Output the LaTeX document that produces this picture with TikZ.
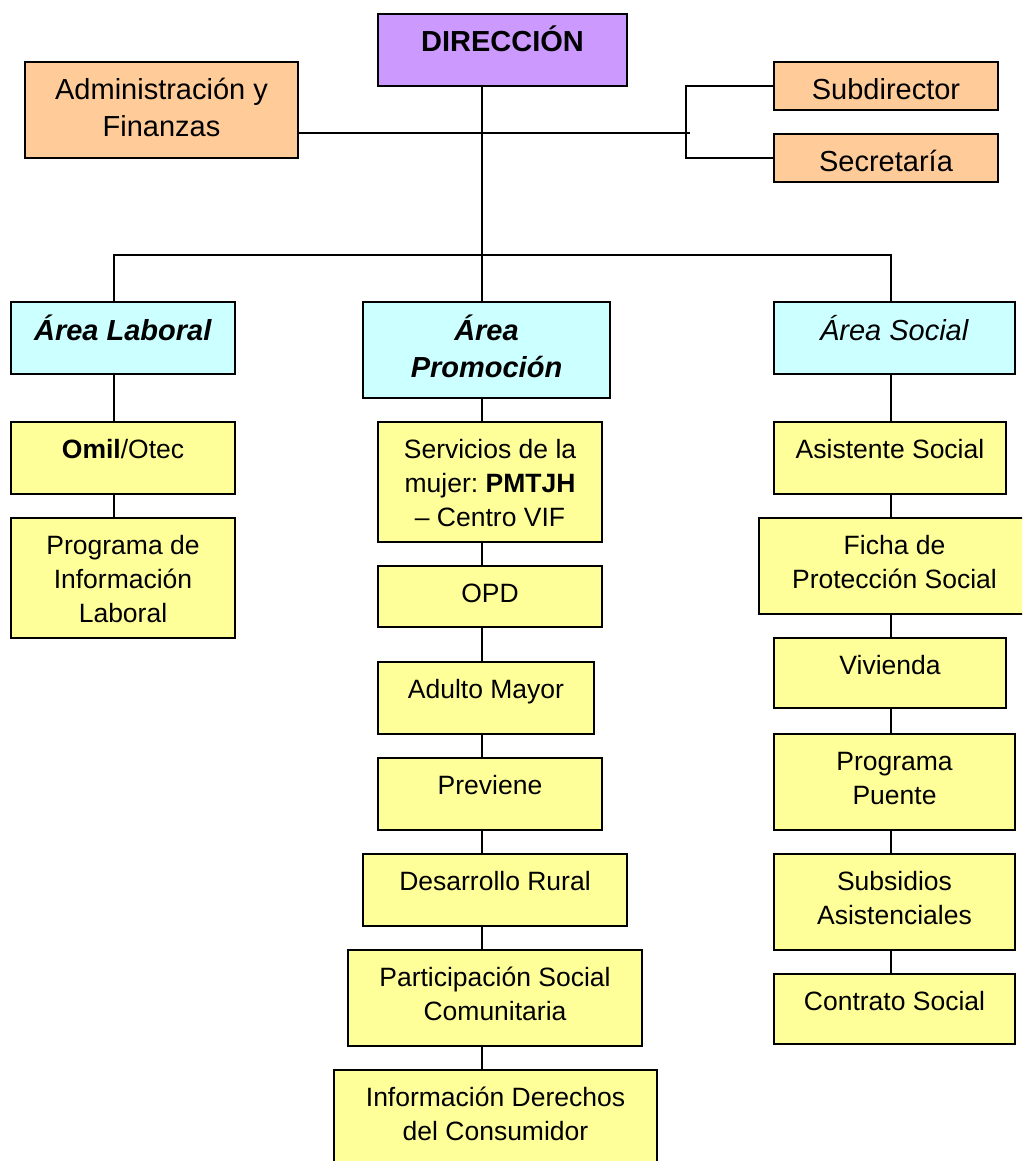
\documentclass[tikz,border=0pt]{standalone}
\usepackage{fontspec}
\setmainfont{Liberation Sans}
\frenchspacing
\definecolor{purp}{HTML}{CC99FF}
\definecolor{orng}{HTML}{FFCC99}
\definecolor{cyn}{HTML}{CCFFFF}
\definecolor{yel}{HTML}{FFFF99}
\tikzset{
  bx/.style={draw=black, line width=1.8pt, inner sep=0pt, rectangle},
  ln/.style={line width=1.7pt},
  bigt/.style={font=\fontsize{29}{37}\selectfont, inner sep=0pt, anchor=base},
  smt/.style={font=\fontsize{26.5}{34}\selectfont, inner sep=0pt, anchor=base},
}
\newcommand\mybox[9]{%
  \node[bx, fill=#6, minimum width={(#4-#2)*1pt}, minimum height={(#5-#3)*1pt}] (#1) at ({(#2+#4)/2},{(#3+#5)/2}) {};
  \node[#7] (#1-t) at ([yshift=-#8pt]#1.north) {\parbox[t]{420pt}{\centering\frenchspacing #9}};
}
\begin{document}
\begin{tikzpicture}[x=1pt,y=-1pt]
\useasboundingbox (0,0) rectangle (1022,1161);
\clip (0,0) rectangle (1022,1161);
% top level
\mybox{dir}{378}{14}{627}{86}{purp}{bigt}{38.5}{\textbf{DIRECCIÓN}}
\mybox{adm}{25}{62}{298}{158}{orng}{bigt}{38.5}{Administración y\\Finanzas}
\mybox{sub}{774}{62}{998}{110}{orng}{bigt}{38.5}{Subdirector}
\mybox{sec}{774}{134}{998}{182}{orng}{bigt}{38.5}{Secretaría}
% areas
\mybox{al}{11}{302}{235}{374}{cyn}{bigt}{39}{\textbf{\textit{Área Laboral}}}
\mybox{ap}{363}{302}{610}{398}{cyn}{bigt}{39}{\textbf{\textit{Área}}\\\textbf{\textit{Promoción}}}
\mybox{as}{774}{302}{1015}{374}{cyn}{bigt}{39}{\textit{Área Social}}
% left column
\mybox{om}{11}{422}{235}{494}{yel}{smt}{37}{\textbf{Omil}/Otec}
\mybox{pil}{11}{518}{235}{638}{yel}{smt}{37.5}{Programa de\\Información\\Laboral}
% middle column
\mybox{sm}{378}{422}{602}{542}{yel}{smt}{37}{Servicios de la\\mujer: \textbf{PMTJH}\\– Centro VIF}
\mybox{opd}{378}{566}{602}{627}{yel}{smt}{37}{OPD}
\mybox{am}{378}{662}{594}{734}{yel}{smt}{37}{Adulto Mayor}
\mybox{pr}{378}{758}{602}{830}{yel}{smt}{37}{Previene}
\mybox{dr}{363}{854}{627}{926}{yel}{smt}{37}{Desarrollo Rural}
\mybox{psc}{348}{950}{642}{1046}{yel}{smt}{37}{Participación Social\\Comunitaria}
\mybox{idc}{334}{1070}{657}{1180}{yel}{smt}{37}{Información Derechos\\del Consumidor}
% right column
\mybox{asi}{774}{422}{1006}{494}{yel}{smt}{37}{Asistente Social}
\mybox{fps}{759}{518}{1030}{614}{yel}{smt}{37}{Ficha de\\Protección Social}
\mybox{viv}{774}{638}{1006}{708}{yel}{smt}{37}{Vivienda}
\mybox{pp}{774}{734}{1015}{830}{yel}{smt}{37}{Programa\\Puente}
\mybox{sa}{774}{854}{1015}{950}{yel}{smt}{37}{Subsidios\\Asistenciales}
\mybox{cs}{774}{974}{1015}{1044}{yel}{smt}{37}{Contrato Social}
% helper coordinates
\coordinate (cl) at (114,0);
\coordinate (cm) at (482,0);
\coordinate (cr) at (891,0);
\coordinate (bus) at (0,255);
\coordinate (vx) at (686,0);
\coordinate (hend) at (690,133);
% connectors top
\draw[ln] (dir.south -| cm) -- (ap.north -| cm);
\draw[ln] (adm.east |- hend) -- (hend);
\draw[ln] (sub.west) -- (sub.west -| vx) -- (sec.west -| vx) -- (sec.west);
\draw[ln] (al.north -| cl) -- (cl |- bus) -- (cr |- bus) -- (as.north -| cr);
% left chain
\draw[ln] (al.south -| cl) -- (om.north -| cl);
\draw[ln] (om.south -| cl) -- (pil.north -| cl);
% middle chain
\draw[ln] (ap.south -| cm) -- (sm.north -| cm);
\draw[ln] (sm.south -| cm) -- (opd.north -| cm);
\draw[ln] (opd.south -| cm) -- (am.north -| cm);
\draw[ln] (am.south -| cm) -- (pr.north -| cm);
\draw[ln] (pr.south -| cm) -- (dr.north -| cm);
\draw[ln] (dr.south -| cm) -- (psc.north -| cm);
\draw[ln] (psc.south -| cm) -- (idc.north -| cm);
% right chain
\draw[ln] (as.south -| cr) -- (asi.north -| cr);
\draw[ln] (asi.south -| cr) -- (fps.north -| cr);
\draw[ln] (fps.south -| cr) -- (viv.north -| cr);
\draw[ln] (viv.south -| cr) -- (pp.north -| cr);
\draw[ln] (pp.south -| cr) -- (sa.north -| cr);
\draw[ln] (sa.south -| cr) -- (cs.north -| cr);
\end{tikzpicture}
\end{document}
